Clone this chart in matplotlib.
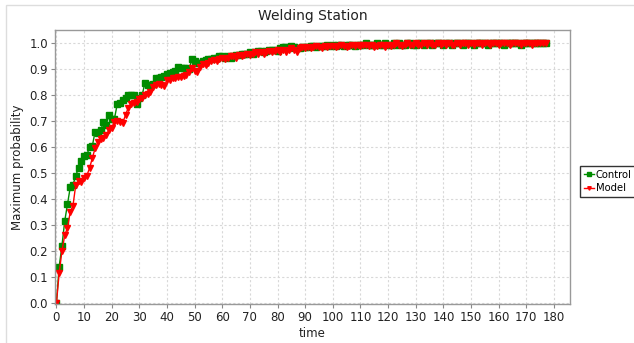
import numpy as np
import matplotlib.pyplot as plt
from matplotlib.patches import Rectangle

# welding station: maximum probability over time, control vs model
time = np.arange(0, 178)

control = [
    0.0, 0.14, 0.22, 0.315, 0.38, 0.445, 0.455, 0.49, 0.52, 0.545,
    0.567, 0.57, 0.60, 0.605, 0.66, 0.655, 0.665, 0.695, 0.685, 0.724,
    0.71, 0.71, 0.765, 0.77, 0.78, 0.79, 0.80, 0.80, 0.80, 0.767,
    0.79, 0.80, 0.846, 0.84, 0.84, 0.845, 0.865, 0.865, 0.87, 0.875,
    0.88, 0.885, 0.89, 0.895, 0.91, 0.905, 0.905, 0.905, 0.90, 0.938,
    0.93, 0.925, 0.925, 0.93, 0.935, 0.94, 0.94, 0.945, 0.945, 0.95,
    0.95, 0.945, 0.95, 0.945, 0.95, 0.955, 0.955, 0.96, 0.96, 0.96,
    0.965, 0.96, 0.965, 0.97, 0.97, 0.965, 0.97, 0.975, 0.975, 0.975,
    0.97, 0.98, 0.985, 0.985, 0.98, 0.99, 0.985, 0.98, 0.98, 0.985,
    0.985, 0.985, 0.99, 0.99, 0.985, 0.99, 0.99, 0.99, 0.995, 0.99,
    0.995, 0.99, 0.995, 0.995, 0.99, 0.995, 0.995, 0.995, 0.99, 0.995,
    0.995, 0.995, 1.0, 0.995, 0.995, 0.995, 1.0, 0.995, 0.995, 1.0,
    0.995, 0.995, 1.0, 0.995, 1.0, 0.995, 0.995, 1.0, 1.0, 0.995,
    0.995, 1.0, 1.0, 0.995, 1.0, 1.0, 0.995, 1.0, 1.0, 1.0,
    0.995, 1.0, 1.0, 0.995, 1.0, 1.0, 1.0, 0.995, 1.0, 1.0,
    1.0, 0.995, 1.0, 1.0, 1.0, 1.0, 0.995, 1.0, 1.0, 1.0,
    1.0, 1.0, 0.995, 1.0, 1.0, 1.0, 1.0, 1.0, 0.995, 1.0,
    1.0, 1.0, 1.0, 1.0, 1.0, 1.0, 1.0, 1.0,
]

model = [
    0.0, 0.115, 0.20, 0.26, 0.29, 0.35, 0.375, 0.455, 0.47, 0.465,
    0.48, 0.49, 0.52, 0.558, 0.596, 0.62, 0.63, 0.637, 0.645, 0.667,
    0.675, 0.698, 0.70, 0.697, 0.693, 0.724, 0.752, 0.765, 0.77, 0.775,
    0.785, 0.788, 0.80, 0.805, 0.814, 0.83, 0.84, 0.845, 0.84, 0.835,
    0.859, 0.86, 0.865, 0.865, 0.87, 0.87, 0.875, 0.878, 0.89, 0.904,
    0.895, 0.89, 0.91, 0.92, 0.915, 0.925, 0.93, 0.935, 0.93, 0.94,
    0.945, 0.94, 0.945, 0.95, 0.95, 0.945, 0.955, 0.95, 0.955, 0.96,
    0.955, 0.96, 0.965, 0.96, 0.965, 0.96, 0.965, 0.97, 0.965, 0.97,
    0.975, 0.968, 0.975, 0.968, 0.975, 0.98, 0.975, 0.968, 0.98, 0.985,
    0.98, 0.985, 0.98, 0.985, 0.99, 0.985, 0.98, 0.99, 0.985, 0.99,
    0.99, 0.985, 0.99, 0.995, 0.99, 0.985, 0.99, 0.995, 0.99, 0.995,
    0.99, 0.995, 0.995, 0.99, 0.995, 0.985, 0.99, 0.995, 0.995, 0.985,
    0.995, 0.99, 0.995, 1.0, 0.995, 0.99, 0.995, 1.0, 0.995, 0.995,
    1.0, 0.995, 0.995, 1.0, 0.995, 1.0, 0.995, 0.995, 1.0, 0.995,
    1.0, 0.995, 1.0, 0.995, 0.995, 1.0, 0.995, 1.0, 1.0, 0.995,
    1.0, 0.995, 1.0, 1.0, 0.995, 1.0, 1.0, 0.995, 1.0, 1.0,
    0.995, 1.0, 1.0, 1.0, 0.995, 1.0, 1.0, 1.0, 0.995, 1.0,
    1.0, 1.0, 0.995, 1.0, 1.0, 1.0, 1.0, 1.0,
]

x_ticks = np.arange(0, 181, 10)
y_ticks = np.arange(0, 1.01, 0.1)

fig = plt.figure(figsize=(6.34, 3.43), dpi=100)
ax = fig.add_axes([0.0868, 0.1137, 0.8122, 0.7988])

# thin frame round the whole chart
fig.patches.append(Rectangle((6 / 634, -0.01), 1.0, 1 - 5 / 343 + 0.01,
                             transform=fig.transFigure, fill=False,
                             edgecolor='#dddddd', linewidth=1))

ax.plot(time, control, color='#008c00', marker='s', markersize=4.2,
        linewidth=1, label='Control')
ax.plot(time, model, color='#ff0000', marker='v', markersize=4.2,
        linewidth=1, label='Model')

ax.set_xlim(-0.5, 185.8)
ax.set_ylim(-0.004, 1.051)
ax.set_xticks(x_ticks)
ax.set_yticks(y_ticks)
ax.set_yticklabels(['%.1f' % v for v in y_ticks])
ax.grid(True, color='#d8d8d8', linestyle=(0, (2, 2)), linewidth=0.8)
ax.set_axisbelow(True)

for s in ax.spines.values():
    s.set_color('#999999')
    s.set_linewidth(1)
ax.tick_params(colors='#888888', labelcolor='#222222', labelsize=8.5,
               length=3, width=0.8, pad=2)

ax.set_title('Welding Station', fontsize=10, color='#222222', pad=7)
ax.set_xlabel('time', fontsize=8.5, color='#222222', labelpad=2)
ax.set_ylabel('Maximum probability', fontsize=8.5, color='#222222', labelpad=4)

leg = fig.legend(loc='upper left', bbox_to_anchor=(580 / 634, 1 - 166 / 343),
                 fontsize=7.2, frameon=True, fancybox=False,
                 handlelength=1.0, handletextpad=0.25,
                 borderpad=0.35, labelspacing=0.35,
                 borderaxespad=0, markerscale=0.6)
leg.get_frame().set_edgecolor('black')
leg.get_frame().set_linewidth(1)

fig.savefig('out.png', dpi=100)
